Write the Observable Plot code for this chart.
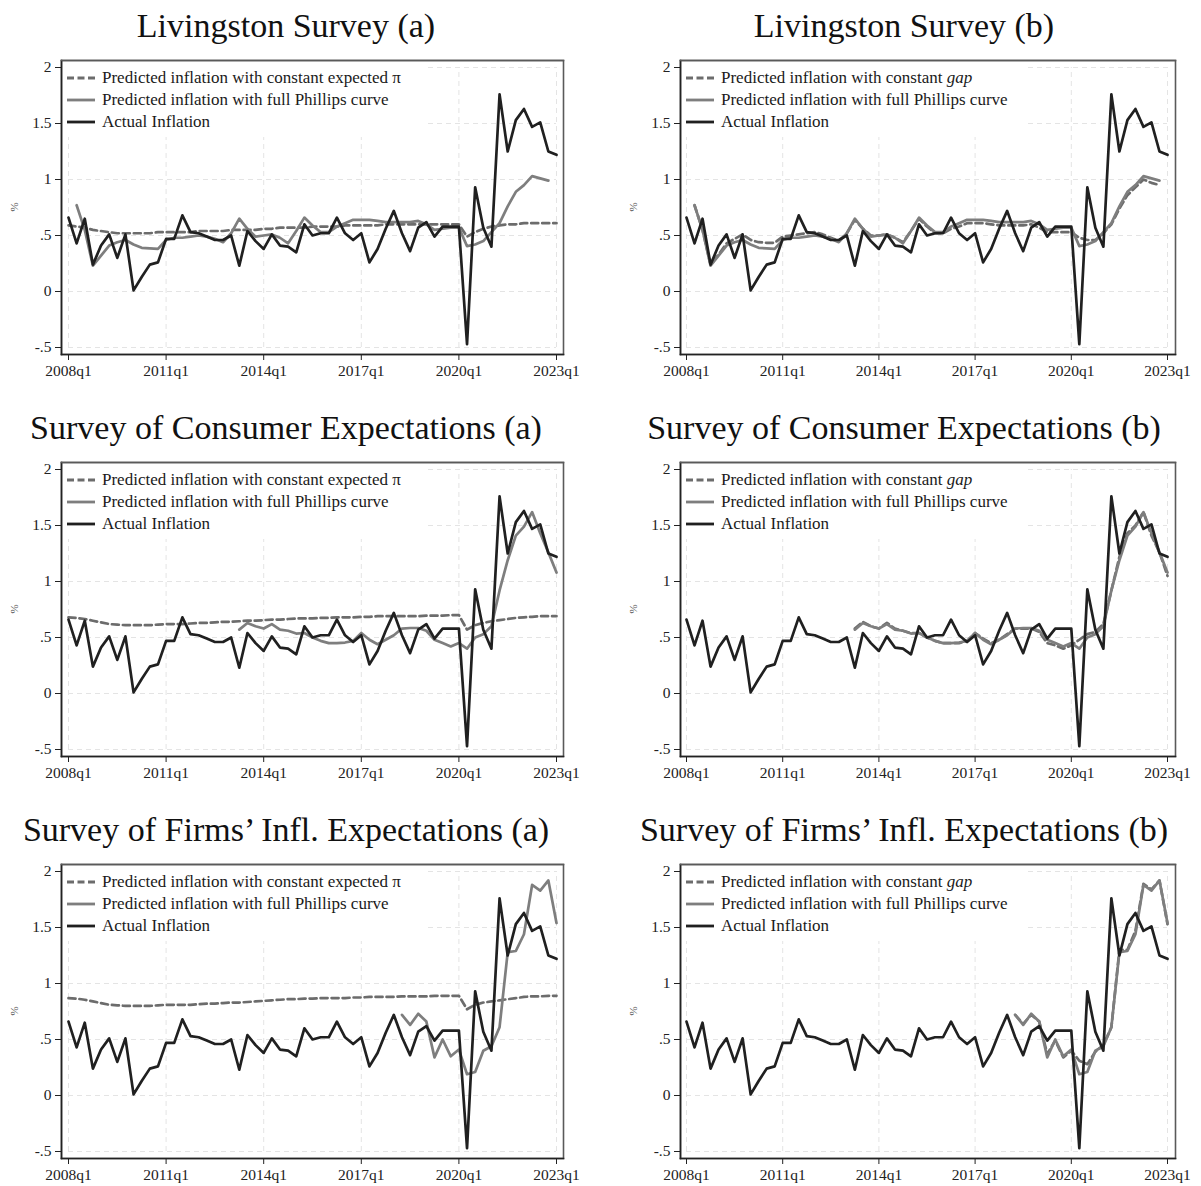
<!DOCTYPE html>
<html>
<head>
<meta charset="utf-8">
<script src="https://cdn.jsdelivr.net/npm/d3@7"></script>
<script src="https://cdn.jsdelivr.net/npm/@observablehq/plot@0.6"></script>
<style>
  body { margin: 0; background: #fff; }
  #root { position: relative; width: 1201px; height: 1186px; overflow: hidden; background: #fff; font-family: "Liberation Serif", "Times New Roman", serif; }
  .panel { position: absolute; }
  .title { position: absolute; white-space: nowrap; font-size: 34px; line-height: 1; color: #111; transform: translateX(-50%); font-family: "Liberation Serif", serif; }
  .ylab { position: absolute; font-size: 11px; color: #555; transform: translate(-50%, -50%) rotate(-90deg); line-height: 1; }
  .legend { position: absolute; background: #fff; box-sizing: border-box; padding-top: 5px; }
  .legend .row { display: flex; align-items: center; height: 22px; font-size: 17px; color: #1a1a1a; white-space: nowrap; font-family: "Liberation Serif", serif; }
  .legend .row svg { margin-left: 4px; margin-right: 7px; flex: none; }
  .panel svg.plot { position: absolute; }
</style>
</head>
<body>
<div id="root"></div>
<script>
// ---------- data ----------
const firstYear = 2008;
const lastQuarter = "2023q1";
const xTickLabels = ["2008q1", "2011q1", "2014q1", "2017q1", "2020q1", "2023q1"];
const yTicks = [-0.5, 0, 0.5, 1, 1.5, 2];
const yTickLabels = ["-.5", "0", ".5", "1", "1.5", "2"];

// Actual inflation, 2008q1 .. 2023q1
const actual = [0.66,0.43,0.65,0.24,0.41,0.51,0.30,0.51,0.01,0.13,
  0.24,0.26,0.47,0.47,0.68,0.53,0.52,0.49,0.46,0.46,
  0.50,0.23,0.54,0.45,0.38,0.51,0.41,0.40,0.35,0.60,
  0.50,0.52,0.52,0.66,0.52,0.46,0.52,0.26,0.38,0.56,
  0.72,0.52,0.36,0.57,0.62,0.49,0.58,0.58,0.58,-0.47,
  0.93,0.57,0.40,1.76,1.25,1.53,1.63,1.47,1.51,1.25,1.22];

// Livingston Survey
const livConstPiStart = "2008q1";
const livConstPi = [0.59,0.58,0.57,0.55,0.54,0.53,0.52,0.52,0.52,0.52,
  0.52,0.53,0.53,0.53,0.53,0.53,0.54,0.54,0.54,0.54,
  0.55,0.55,0.55,0.55,0.56,0.56,0.57,0.57,0.57,0.57,
  0.58,0.58,0.58,0.58,0.59,0.59,0.59,0.59,0.59,0.60,
  0.60,0.60,0.60,0.60,0.60,0.60,0.60,0.60,0.60,0.49,
  0.53,0.56,0.58,0.59,0.60,0.60,0.61,0.61,0.61,0.61,0.61];
const livPCStart = "2008q2";
const livPC = [0.77,0.55,0.23,0.32,0.41,0.44,0.46,0.42,0.39,0.385,
  0.38,0.46,0.48,0.48,0.49,0.50,0.49,0.47,0.44,0.52,
  0.65,0.56,0.49,0.50,0.51,0.48,0.43,0.54,0.66,0.59,
  0.53,0.53,0.58,0.61,0.64,0.64,0.64,0.63,0.62,0.62,
  0.62,0.62,0.63,0.60,0.55,0.56,0.57,0.57,0.405,0.42,
  0.45,0.53,0.61,0.76,0.89,0.95,1.03,1.01,0.99];
const livGapStart = "2008q2";
const livGap = [0.77,0.55,0.24,0.33,0.43,0.47,0.51,0.46,0.44,0.435,
  0.435,0.49,0.50,0.51,0.52,0.53,0.51,0.48,0.45,0.52,
  0.64,0.56,0.50,0.50,0.51,0.48,0.44,0.54,0.65,0.58,
  0.52,0.52,0.56,0.58,0.61,0.61,0.61,0.60,0.59,0.59,
  0.59,0.59,0.60,0.57,0.53,0.53,0.53,0.53,0.48,0.46,
  0.46,0.52,0.60,0.74,0.86,0.93,1.00,0.97,0.95];

// Survey of Consumer Expectations
const sceConstPiStart = "2008q1";
const sceConstPi = [0.68,0.675,0.665,0.65,0.635,0.62,0.615,0.61,0.61,0.61,
  0.61,0.615,0.62,0.62,0.62,0.625,0.63,0.63,0.635,0.64,
  0.64,0.645,0.65,0.65,0.655,0.66,0.66,0.665,0.67,0.67,
  0.67,0.675,0.675,0.68,0.68,0.68,0.685,0.685,0.69,0.69,
  0.69,0.69,0.69,0.69,0.695,0.695,0.695,0.70,0.70,0.57,
  0.61,0.63,0.645,0.655,0.665,0.675,0.68,0.685,0.69,0.69,0.69];
const scePCStart = "2013q2";
const scePC = [0.57,0.63,0.60,0.58,0.62,0.57,0.56,0.535,0.54,0.50,
  0.47,0.45,0.45,0.455,0.47,0.54,0.48,0.44,0.48,0.52,
  0.58,0.585,0.585,0.56,0.48,0.45,0.42,0.45,0.40,0.50,
  0.53,0.60,0.92,1.19,1.41,1.49,1.62,1.43,1.26,1.08];
const sceGapStart = "2013q2";
const sceGap = [0.58,0.64,0.60,0.58,0.63,0.58,0.56,0.54,0.54,0.50,
  0.47,0.45,0.45,0.45,0.47,0.54,0.49,0.45,0.48,0.53,
  0.58,0.58,0.58,0.55,0.45,0.43,0.40,0.43,0.48,0.53,
  0.55,0.62,0.92,1.22,1.43,1.50,1.62,1.41,1.26,1.05];

// Survey of Firms' Inflation Expectations
const firmsConstPiStart = "2008q1";
const firmsConstPi = [0.87,0.865,0.855,0.84,0.825,0.81,0.805,0.80,0.80,0.80,
  0.80,0.805,0.81,0.81,0.81,0.81,0.815,0.82,0.82,0.825,
  0.83,0.83,0.835,0.84,0.845,0.85,0.855,0.86,0.86,0.865,
  0.865,0.87,0.87,0.87,0.87,0.875,0.875,0.88,0.88,0.88,
  0.88,0.885,0.885,0.885,0.885,0.89,0.89,0.89,0.89,0.77,
  0.81,0.83,0.84,0.85,0.86,0.87,0.88,0.885,0.885,0.89,0.89];
const firmsPCStart = "2018q2";
const firmsPC = [0.72,0.63,0.73,0.66,0.34,0.50,0.35,0.41,0.19,0.21,
  0.40,0.44,0.61,1.28,1.29,1.44,1.88,1.83,1.92,1.54];
const firmsGapStart = "2018q2";
const firmsGap = [0.72,0.64,0.72,0.66,0.37,0.49,0.34,0.40,0.31,0.28,
  0.39,0.45,0.61,1.30,1.30,1.47,1.89,1.84,1.92,1.53];

const titles = [
  "Livingston Survey (a)", "Livingston Survey (b)",
  "Survey of Consumer Expectations (a)", "Survey of Consumer Expectations (b)",
  "Survey of Firms\u2019 Infl. Expectations (a)", "Survey of Firms\u2019 Infl. Expectations (b)"
];
const legendConstPi = "Predicted inflation with constant expected \u03c0";
const legendConstGapHTML = "Predicted inflation with constant <i>gap</i>";
const legendPC = "Predicted inflation with full Phillips curve";
const legendActual = "Actual Inflation";

// ---------- build ----------
const quarters = [];
for (let y = firstYear; ; y++) {
  let done = false;
  for (let q = 1; q <= 4; q++) {
    const lab = y + "q" + q;
    quarters.push(lab);
    if (lab === lastQuarter) { done = true; break; }
  }
  if (done) break;
}
const xTicks = xTickLabels.map(l => quarters.indexOf(l));
const nQ = quarters.length - 1;

function toRows(values, start) {
  const s = quarters.indexOf(start);
  return values.map((v, k) => ({i: s + k, v})).filter(d => d.v != null);
}

const COL_DASH = "#6c6c6c", COL_PC = "#7e7e7e", COL_ACT = "#202020";

const panels = [
  {title: titles[0], dashed: toRows(livConstPi, livConstPiStart), pc: toRows(livPC, livPCStart), leg: legendConstPi, html: false},
  {title: titles[1], dashed: toRows(livGap, livGapStart), pc: toRows(livPC, livPCStart), leg: legendConstGapHTML, html: true},
  {title: titles[2], dashed: toRows(sceConstPi, sceConstPiStart), pc: toRows(scePC, scePCStart), leg: legendConstPi, html: false},
  {title: titles[3], dashed: toRows(sceGap, sceGapStart), pc: toRows(scePC, scePCStart), leg: legendConstGapHTML, html: true},
  {title: titles[4], dashed: toRows(firmsConstPi, firmsConstPiStart), pc: toRows(firmsPC, firmsPCStart), leg: legendConstPi, html: false},
  {title: titles[5], dashed: toRows(firmsGap, firmsGapStart), pc: toRows(firmsPC, firmsPCStart), leg: legendConstGapHTML, html: true}
];
const actualRows = toRows(actual, quarters[0]);

// layout
const cols = [
  {left: 0, width: 600, mL: 61, mR: 37, inL: 7, inR: 7, titleX: 286, legW: 363},
  {left: 600, width: 601, mL: 80, mR: 26, inL: 6, inR: 8, titleX: 304, legW: 346}
];
const rowTops = [0, 402, 804];
const svgTop = 52, mT = 8, plotH = 294, mB = 33;

const root = document.getElementById("root");

function sampleSVG(color, dashed) {
  const ns = "http://www.w3.org/2000/svg";
  const s = document.createElementNS(ns, "svg");
  s.setAttribute("width", 28); s.setAttribute("height", 6);
  const l = document.createElementNS(ns, "line");
  l.setAttribute("x1", 0); l.setAttribute("x2", 28); l.setAttribute("y1", 3); l.setAttribute("y2", 3);
  l.setAttribute("stroke", color); l.setAttribute("stroke-width", 2.8);
  if (dashed) l.setAttribute("stroke-dasharray", "7,3.5");
  s.appendChild(l);
  return s;
}

panels.forEach((p, k) => {
  const c = cols[k % 2];
  const top = rowTops[Math.floor(k / 2)];
  const div = document.createElement("div");
  div.className = "panel";
  div.style.left = c.left + "px"; div.style.top = top + "px";
  div.style.width = c.width + "px"; div.style.height = "402px";
  root.appendChild(div);

  const t = document.createElement("div");
  t.className = "title"; t.textContent = p.title;
  t.style.left = c.titleX + "px"; t.style.top = "9px";
  div.appendChild(t);

  const grid = {stroke: "#e4e4e4", strokeWidth: 1, strokeDasharray: "5,4"};
  const plot = Plot.plot({
    width: c.width,
    height: mT + plotH + mB,
    marginLeft: c.mL, marginRight: c.mR, marginTop: mT, marginBottom: mB,
    x: {type: "linear", domain: [0, nQ], insetLeft: c.inL, insetRight: c.inR},
    y: {type: "linear", domain: [-0.5, 2], insetTop: 7, insetBottom: 7},
    style: {fontFamily: "Liberation Serif, serif", color: "#222", background: "transparent", overflow: "visible"},
    marks: [
      Plot.ruleY(yTicks, {y: d => d, x1: 0, x2: nQ, ...grid}),
      Plot.ruleX(xTicks, {x: d => d, y1: -0.5, y2: 2, ...grid}),
      Plot.frame({stroke: "#5a5a5a", strokeWidth: 1.6}),
      Plot.line(p.dashed, {x: "i", y: "v", stroke: COL_DASH, strokeWidth: 2.7, strokeDasharray: "7,4"}),
      Plot.line(p.pc, {x: "i", y: "v", stroke: COL_PC, strokeWidth: 2.7}),
      Plot.line(actualRows, {x: "i", y: "v", stroke: COL_ACT, strokeWidth: 2.7}),
      Plot.axisY({ticks: yTicks, tickFormat: d => yTickLabels[yTicks.indexOf(d)], tickSize: 6, tickPadding: 4, fontSize: 15.5, label: null}),
      Plot.axisX({ticks: xTicks, tickFormat: d => quarters[d], tickSize: 6, tickPadding: 4, fontSize: 15.5, label: null})
    ]
  });
  plot.classList.add("plot");
  plot.style.left = "0px"; plot.style.top = svgTop + "px";
  div.appendChild(plot);

  const yl = document.createElement("div");
  yl.className = "ylab"; yl.textContent = "%";
  yl.style.left = (c.mL - 47) + "px";
  yl.style.top = (svgTop + mT + plotH / 2) + "px";
  div.appendChild(yl);

  const leg = document.createElement("div");
  leg.className = "legend";
  leg.style.left = (c.mL + 2) + "px";
  leg.style.top = (svgTop + mT + 2) + "px";
  leg.style.width = c.legW + "px";
  leg.style.height = "75px";
  const entries = [
    {color: COL_DASH, dashed: true, text: p.leg, html: p.html},
    {color: COL_PC, dashed: false, text: legendPC, html: false},
    {color: COL_ACT, dashed: false, text: legendActual, html: false}
  ];
  entries.forEach(e => {
    const r = document.createElement("div");
    r.className = "row";
    r.appendChild(sampleSVG(e.color, e.dashed));
    const sp = document.createElement("span");
    if (e.html) sp.innerHTML = e.text; else sp.textContent = e.text;
    r.appendChild(sp);
    leg.appendChild(r);
  });
  div.appendChild(leg);

  // dark left and bottom axis lines drawn over the legend box, as in the reference
  const ns = "http://www.w3.org/2000/svg";
  const ov = Plot.plot({
    width: c.width,
    height: mT + plotH + mB,
    marginLeft: c.mL, marginRight: c.mR, marginTop: mT, marginBottom: mB,
    x: {type: "linear", domain: [0, nQ], insetLeft: c.inL, insetRight: c.inR, axis: null},
    y: {type: "linear", domain: [-0.5, 2], insetTop: 7, insetBottom: 7, axis: null},
    style: {background: "transparent", overflow: "visible"},
    marks: [
      Plot.frame({anchor: "left", stroke: "#222", strokeWidth: 1.6}),
      Plot.frame({anchor: "bottom", stroke: "#222", strokeWidth: 1.6}),
      Plot.frame({anchor: "top", stroke: "#5a5a5a", strokeWidth: 1.6})
    ]
  });
  ov.classList.add("plot");
  ov.style.left = "0px"; ov.style.top = svgTop + "px"; ov.style.pointerEvents = "none";
  div.appendChild(ov);
});
</script>
</body>
</html>
